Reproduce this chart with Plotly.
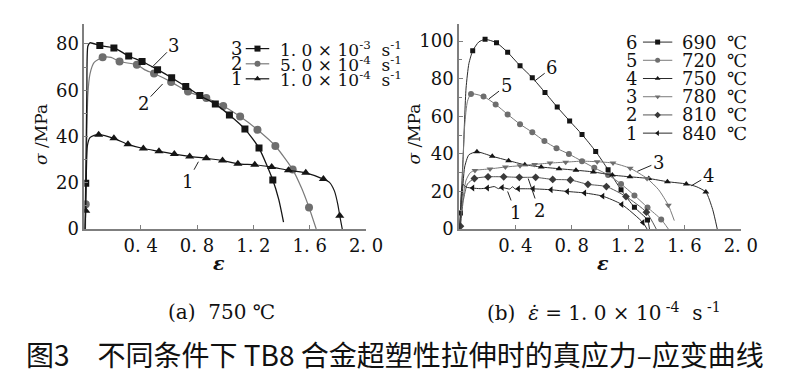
import plotly.graph_objects as go

W, H = 786, 382

# ---------------- Panel (a): 750 °C, three strain rates ----------------
a_names = ["3", "2", "1"]
a_labels = ["1. 0 × 10<sup>-3</sup>  s<sup>-1</sup>",
            "5. 0 × 10<sup>-4</sup>  s<sup>-1</sup>",
            "1. 0 × 10<sup>-4</sup>  s<sup>-1</sup>"]

a3_x = [0.003, 0.01, 0.018, 0.025, 0.04, 0.11, 0.21, 0.315, 0.41, 0.52, 0.62, 0.72, 0.82, 0.93, 1.03, 1.14, 1.24, 1.338, 1.38, 1.414]
a3_y = [0, 19.8, 60, 79, 80.5, 79.3, 78.3, 74.8, 72.4, 68.9, 65.4, 61.6, 57.7, 54.0, 49.3, 43.2, 35.0, 21.2, 12.8, 3]
a3_mx = [0.01, 0.11, 0.21, 0.315, 0.41, 0.52, 0.62, 0.72, 0.82, 0.93, 1.03, 1.14, 1.24, 1.338]
a3_my = [19.8, 79.3, 78.3, 74.8, 72.4, 68.9, 65.4, 61.6, 57.7, 54.0, 49.3, 43.2, 35.0, 21.2]

a2_x = [0.008, 0.01, 0.018, 0.025, 0.04, 0.07, 0.13, 0.19, 0.25, 0.373, 0.43, 0.495, 0.616, 0.736, 0.866, 0.986, 1.106, 1.229, 1.356, 1.479, 1.542, 1.595, 1.646]
a2_y = [0, 10.7, 40, 58, 67, 72, 74.2, 74.2, 72.4, 71.0, 68.8, 67.2, 63.6, 59.4, 56.6, 53.2, 48.6, 42.9, 35.9, 25.7, 17.7, 9.3, 0]
a2_mx = [0.01, 0.13, 0.25, 0.373, 0.495, 0.616, 0.736, 0.866, 0.986, 1.106, 1.229, 1.356, 1.479, 1.595]
a2_my = [10.7, 74.2, 72.4, 71.0, 67.2, 63.6, 59.4, 56.6, 53.2, 48.6, 42.9, 35.9, 25.7, 9.3]

a1_x = [0.005, 0.01, 0.015, 0.022, 0.04, 0.07, 0.102, 0.21, 0.31, 0.419, 0.53, 0.639, 0.748, 0.866, 0.981, 1.09, 1.21, 1.33, 1.449, 1.572, 1.697, 1.74, 1.775, 1.80, 1.813, 1.831]
a1_y = [0, 7.9, 25, 36, 39.5, 40.5, 40.8, 39.2, 36.6, 34.8, 33.6, 32.4, 31.4, 30.6, 29.6, 28.2, 27.8, 26.8, 25.4, 24.3, 21.6, 20.2, 16.5, 10.5, 5.8, 0]
a1_mx = [0.01, 0.102, 0.21, 0.31, 0.419, 0.53, 0.639, 0.748, 0.866, 0.981, 1.09, 1.21, 1.33, 1.449, 1.572, 1.697, 1.813]
a1_my = [7.9, 40.8, 39.2, 36.6, 34.8, 33.6, 32.4, 31.4, 30.6, 29.6, 28.2, 27.8, 26.8, 25.4, 24.3, 21.6, 5.8]

# ---------------- Panel (b): strain rate 1.0e-4 s-1, six temperatures ----------------
b_names = ["6", "5", "4", "3", "2", "1"]
b_temps = ["690", "720", "750", "780", "810", "840"]

b6_x = [0.005, 0.01, 0.03, 0.05, 0.07, 0.097, 0.14, 0.185, 0.266, 0.345, 0.433, 0.52, 0.61, 0.697, 0.785, 0.873, 0.97, 1.058, 1.15, 1.245, 1.338, 1.352]
b6_y = [0, 8.5, 40, 75, 88, 94.8, 99.5, 100.9, 99.1, 94.0, 86.9, 80.5, 72.7, 64.9, 57.5, 50.3, 41.3, 31.6, 20.9, 11.6, 4.8, 0]
b6_mx = [0.01, 0.097, 0.185, 0.266, 0.345, 0.433, 0.52, 0.61, 0.697, 0.785, 0.873, 0.97, 1.058, 1.15, 1.245, 1.338]
b6_my = [8.5, 94.8, 100.9, 99.1, 94.0, 86.9, 80.5, 72.7, 64.9, 57.5, 50.3, 41.3, 31.6, 20.9, 11.6, 4.8]

b5_x = [0.005, 0.02, 0.04, 0.06, 0.085, 0.174, 0.26, 0.345, 0.433, 0.52, 0.606, 0.692, 0.78, 0.873, 0.96, 1.058, 1.15, 1.245, 1.338, 1.435, 1.486]
b5_y = [0, 20, 55, 68, 71.9, 70.5, 66.3, 61.0, 55.8, 51.5, 46.8, 43.0, 39.9, 36.1, 32.6, 28.8, 24.0, 17.9, 11.5, 5.1, 0]
b5_mx = [0.085, 0.174, 0.26, 0.345, 0.433, 0.52, 0.606, 0.692, 0.78, 0.873, 0.96, 1.058, 1.15, 1.245, 1.338, 1.435]
b5_my = [71.9, 70.5, 66.3, 61.0, 55.8, 51.5, 46.8, 43.0, 39.9, 36.1, 32.6, 28.8, 24.0, 17.9, 11.5, 5.1]

b4_x = [0.005, 0.02, 0.04, 0.07, 0.127, 0.236, 0.352, 0.467, 0.583, 0.71, 0.83, 0.953, 1.088, 1.213, 1.347, 1.479, 1.613, 1.683, 1.752, 1.80, 1.833]
b4_y = [0, 15, 33, 39.5, 41.1, 38.7, 36.4, 34.2, 33.0, 32.1, 31.3, 30.4, 28.7, 27.8, 26.9, 25.2, 24.0, 22.6, 19.7, 10.5, 0]
b4_mx = [0.127, 0.236, 0.352, 0.467, 0.583, 0.71, 0.83, 0.953, 1.088, 1.213, 1.347, 1.479, 1.613, 1.752]
b4_my = [41.1, 38.7, 36.4, 34.2, 33.0, 32.1, 31.3, 30.4, 28.7, 27.8, 26.9, 25.2, 24.0, 19.7]

b3_x = [0.005, 0.02, 0.05, 0.08, 0.113, 0.22, 0.329, 0.433, 0.537, 0.646, 0.757, 0.873, 0.981, 1.093, 1.215, 1.335, 1.417, 1.486, 1.528]
b3_y = [0, 12, 26, 30, 31.2, 32.0, 33.0, 33.7, 34.4, 35.1, 35.6, 36.1, 35.8, 35.1, 32.3, 26.9, 20.9, 12.6, 4.5]
b3_mx = [0.113, 0.22, 0.329, 0.433, 0.537, 0.646, 0.757, 0.873, 0.981, 1.093, 1.215, 1.335, 1.486]
b3_my = [31.2, 32.0, 33.0, 33.7, 34.4, 35.1, 35.6, 36.1, 35.8, 35.1, 32.3, 26.9, 12.6]

b2_x = [0.005, 0.01, 0.03, 0.06, 0.109, 0.206, 0.317, 0.428, 0.544, 0.665, 0.79, 0.915, 1.046, 1.185, 1.33, 1.40]
b2_y = [0, 1.5, 15, 24, 26.9, 27.8, 27.8, 27.5, 27.5, 26.4, 26.1, 23.8, 22.6, 17.3, 9.0, 0]
b2_mx = [0.01, 0.109, 0.206, 0.317, 0.428, 0.544, 0.665, 0.79, 0.915, 1.046, 1.185, 1.33]
b2_my = [1.5, 26.9, 27.8, 27.8, 27.5, 27.5, 26.4, 26.1, 23.8, 22.6, 17.3, 9.0]

b1_x = [0.005, 0.012, 0.02, 0.028, 0.05, 0.097, 0.15, 0.201, 0.25, 0.28, 0.306, 0.36, 0.38, 0.40, 0.421, 0.526, 0.653, 0.769, 0.891, 1.02, 1.155, 1.305, 1.335]
b1_y = [0, 12, 22, 23.8, 22.3, 21.8, 21.5, 21.8, 22.6, 21.5, 22.1, 21.3, 22.5, 21.2, 21.4, 21.4, 20.9, 20.0, 19.2, 17.5, 13.1, 3.5, 0]
b1_mx = [0.097, 0.201, 0.306, 0.421, 0.526, 0.653, 0.769, 0.891, 1.02, 1.155, 1.305]
b1_my = [21.8, 21.8, 22.1, 21.4, 21.4, 20.9, 20.0, 19.2, 17.5, 13.1, 3.5]

x_ticks = [0.4, 0.8, 1.2, 1.6, 2.0]
x_ticktext = ["0. 4", "0. 8", "1. 2", "1. 6", "2. 0"]
ya_ticks = [0, 20, 40, 60, 80]
yb_ticks = [0, 20, 40, 60, 80, 100]

BLACK = "#151515"
GRAY = "#6e6e6e"
LBLACK = "#2a2a2a"
LGRAY = "#7a7a7a"
AXC = "#7f7f7f"
SERIF = "DejaVu Serif"

fig = go.Figure()

def add_curve(xa, ya, lx, ly, mx, my, lcol, mcol, sym, msize, lw):
    fig.add_trace(go.Scatter(x=lx, y=ly, xaxis=xa, yaxis=ya, mode="lines",
                             line=dict(color=lcol, width=lw, shape="spline", smoothing=0.6),
                             showlegend=False, hoverinfo="skip"))
    fig.add_trace(go.Scatter(x=mx, y=my, xaxis=xa, yaxis=ya, mode="markers",
                             marker=dict(symbol=sym, size=msize, color=mcol, line=dict(width=0)),
                             showlegend=False, hoverinfo="skip"))

# panel (a)
add_curve("x", "y", a2_x, a2_y, a2_mx, a2_my, LGRAY, GRAY, "circle", 8, 1.2)
add_curve("x", "y", a3_x, a3_y, a3_mx, a3_my, BLACK, BLACK, "square", 7, 1.3)
add_curve("x", "y", a1_x, a1_y, a1_mx, a1_my, BLACK, BLACK, "triangle-up", 8, 1.2)

# panel (b)
b_series = [
    (b6_x, b6_y, b6_mx, b6_my, LBLACK, BLACK, "square", 5),
    (b5_x, b5_y, b5_mx, b5_my, LGRAY, GRAY, "circle", 6),
    (b4_x, b4_y, b4_mx, b4_my, LBLACK, BLACK, "triangle-up", 6),
    (b3_x, b3_y, b3_mx, b3_my, LGRAY, GRAY, "triangle-down", 6),
    (b2_x, b2_y, b2_mx, b2_my, "#555555", "#3a3a3a", "diamond", 6),
    (b1_x, b1_y, b1_mx, b1_my, LBLACK, BLACK, "triangle-left", 6),
]
for s in b_series:
    add_curve("x2", "y2", s[0], s[1], s[2], s[3], s[4], s[5], s[6], s[7], 1.0)

# legend glyphs drawn on a full-figure pixel overlay axis
a_leg_rows = [41.7, 57.3, 72.7]
a_leg_style = [(BLACK, BLACK, "square"), (LGRAY, GRAY, "circle"), (BLACK, BLACK, "triangle-up")]
for row, (lc, mc, sym) in zip(a_leg_rows, a_leg_style):
    fig.add_trace(go.Scatter(x=[243, 267], y=[row, row], xaxis="x3", yaxis="y3", mode="lines",
                             line=dict(color=lc, width=1.2), showlegend=False, hoverinfo="skip"))
    fig.add_trace(go.Scatter(x=[255], y=[row], xaxis="x3", yaxis="y3", mode="markers",
                             marker=dict(symbol=sym, size=6, color=mc), showlegend=False, hoverinfo="skip"))

b_leg_rows = [35, 53.7, 72.4, 91.1, 109.8, 128.5]
for row, s in zip(b_leg_rows, b_series):
    fig.add_trace(go.Scatter(x=[649, 679], y=[row, row], xaxis="x3", yaxis="y3", mode="lines",
                             line=dict(color=s[4], width=1.0), showlegend=False, hoverinfo="skip"))
    fig.add_trace(go.Scatter(x=[664], y=[row], xaxis="x3", yaxis="y3", mode="markers",
                             marker=dict(symbol=s[6], size=5, color=s[5]), showlegend=False, hoverinfo="skip"))

ann = []
def txt(x, y, t, size=17, xanchor="center", yanchor="middle", family=SERIF, angle=0, color="#111"):
    ann.append(dict(x=x, y=y, xref="x3", yref="y3", text=t, showarrow=False,
                    xanchor=xanchor, yanchor=yanchor, textangle=angle,
                    font=dict(family=family, size=size, color=color)))

for row, n, lab in zip(a_leg_rows, a_names, a_labels):
    txt(234, row, n, size=18)
    txt(276, row, lab, xanchor="left", size=17)
for row, n, t in zip(b_leg_rows, b_names, b_temps):
    txt(637, row, n, size=18)
    txt(687, row, t, xanchor="left", size=18)
    txt(745, row, "℃", xanchor="center", size=18)

# axis titles
txt(33, 130, "<i>σ</i> /MPa", angle=-90, size=17)
txt(415, 130, "<i>σ</i> /MPa", angle=-90, size=17)
txt(216, 262, "<b><i>ε</i></b>", size=19)
txt(608, 262, "<b><i>ε</i></b>", size=19)

# captions
txt(218, 312, "(a)  750 ℃", size=20)
txt(609, 312, "(b)  <i>ε̇</i> = 1. 0 × 10<sup> -4</sup>  s<sup> -1</sup>", size=20)
txt(396, 355, "图3　不同条件下 TB8 合金超塑性拉伸时的真应力–应变曲线", size=28,
    family="Noto Sans CJK SC")

# curve labels with leader lines
def lab(xa, ya, x, y, t, ax, ay):
    ann.append(dict(x=x, y=y, xref=xa, yref=ya, text=t, showarrow=True, arrowhead=0,
                    arrowwidth=1, arrowcolor="#222", ax=ax, ay=ay, standoff=0,
                    font=dict(family=SERIF, size=18, color="#111")))

lab("x", "y", 0.48, 69.9, "3", 22, -22)
lab("x", "y", 0.556, 62.7, "2", -19, 20)
lab("x", "y", 0.81, 29.1, "1", -11, 20)
lab("x2", "y2", 0.537, 78.8, "6", 17, -13)
lab("x2", "y2", 0.213, 69.3, "5", 17, -13)
lab("x2", "y2", 1.648, 23.0, "4", 17, -10)
lab("x2", "y2", 1.266, 30.7, "3", 21, -9)
lab("x2", "y2", 0.345, 20.0, "1", 8, 21)
lab("x2", "y2", 0.491, 26.9, "2", 11, 32)

axis_common = dict(showline=True, linecolor=AXC, linewidth=1.5, showgrid=False, zeroline=False,
                   ticks="inside", ticklen=4, tickcolor=AXC, tickwidth=1,
                   tickfont=dict(family=SERIF, size=18, color="#111"))

fig.update_layout(
    width=W, height=H, margin=dict(l=0, r=0, t=0, b=0),
    paper_bgcolor="white", plot_bgcolor="rgba(0,0,0,0)",
    showlegend=False,
    xaxis=dict(domain=[78 / W, 366 / W], range=[0, 2.0], tickvals=x_ticks, ticktext=x_ticktext,
               anchor="y", **axis_common),
    yaxis=dict(domain=[1 - 227 / H, 1 - 16 / H], range=[0, 88.8], tickvals=ya_ticks,
               minor=dict(dtick=10, ticks="inside", ticklen=3, tickcolor=AXC),
               anchor="x", **axis_common),
    xaxis2=dict(domain=[461 / W, 749 / W], range=[0, 2.0], tickvals=x_ticks, ticktext=x_ticktext,
                anchor="y2", **axis_common),
    yaxis2=dict(domain=[1 - 227 / H, 1 - 16 / H], range=[0, 109.3], tickvals=yb_ticks,
                minor=dict(dtick=10, ticks="inside", ticklen=3, tickcolor=AXC),
                anchor="x2", **axis_common),
    xaxis3=dict(domain=[0, 1], range=[0, W], visible=False, anchor="y3", fixedrange=True),
    yaxis3=dict(domain=[0, 1], range=[H, 0], visible=False, anchor="x3", fixedrange=True),
    annotations=ann,
)

fig.write_html("out.html")
